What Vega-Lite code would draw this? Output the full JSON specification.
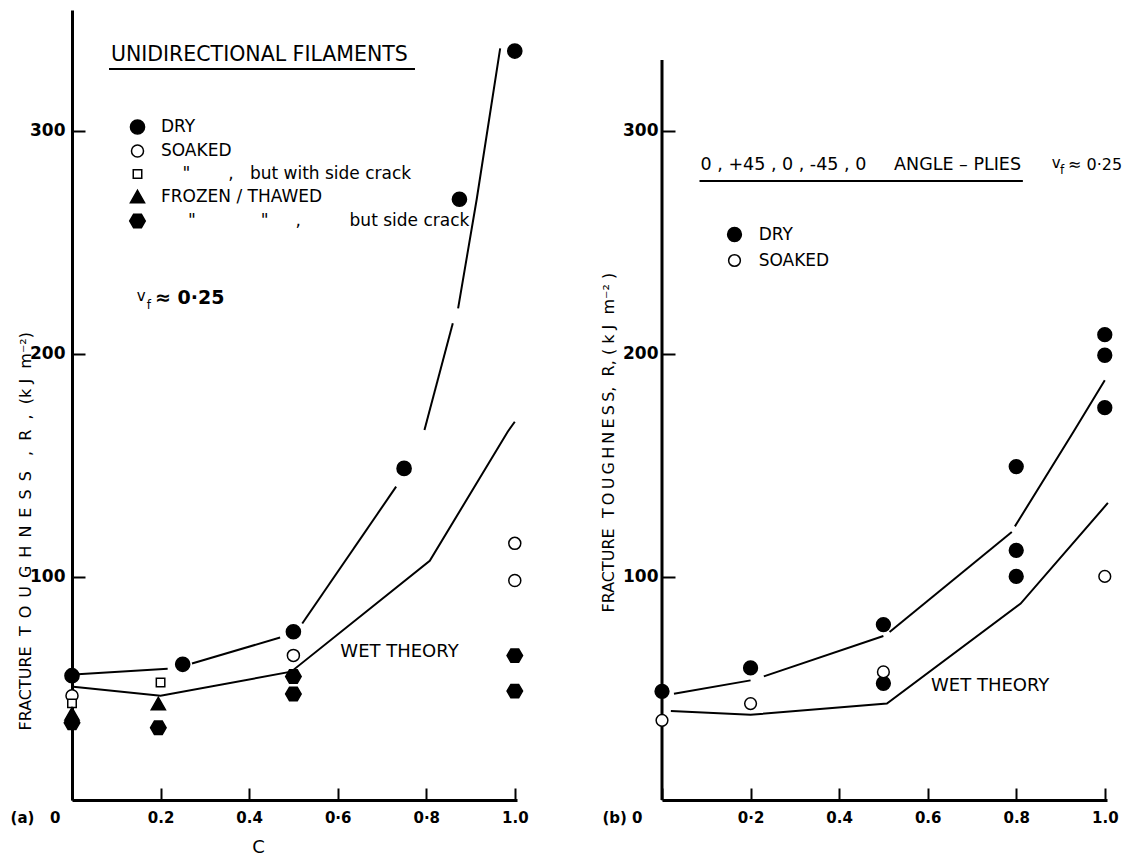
{
  "$schema": "https://vega.github.io/schema/vega-lite/v6.json",
  "background": "white",
  "padding": {"left": 10, "top": 10, "right": 5, "bottom": 5},
  "config": {
    "font": "DejaVu Sans",
    "view": {"stroke": null},
    "axis": {"domainColor": "black", "domainWidth": 3, "tickColor": "black", "tickWidth": 2, "labelColor": "black", "titleColor": "black", "labelFont": "DejaVu Sans", "titleFont": "DejaVu Sans", "labelFontWeight": "bold", "grid": false, "labelFlush": false, "labelOverlap": false, "labelBound": false},
    "legend": {"padding": 0, "titleColor": "black", "labelColor": "black"}
  },
  "datasets": {
    "pts": [
      {"panel": "a", "c": 0, "R": 55.7, "cond": "DRY"},
      {"panel": "a", "c": 0.25, "R": 60.8, "cond": "DRY"},
      {"panel": "a", "c": 0.5, "R": 75.4, "cond": "DRY"},
      {"panel": "a", "c": 0.75, "R": 148.6, "cond": "DRY"},
      {"panel": "a", "c": 0.875, "R": 269.2, "cond": "DRY"},
      {"panel": "a", "c": 1.0, "R": 335.6, "cond": "DRY"},
      {"panel": "a", "c": 0, "R": 46.7, "cond": "SOAKED"},
      {"panel": "a", "c": 0.5, "R": 64.8, "cond": "SOAKED"},
      {"panel": "a", "c": 1.0, "R": 115, "cond": "SOAKED"},
      {"panel": "a", "c": 1.0, "R": 98.4, "cond": "SOAKED"},
      {"panel": "a", "c": 0.2, "R": 52.6, "cond": "SOAKED, side crack"},
      {"panel": "a", "c": 0, "R": 43.3, "cond": "SOAKED, side crack"},
      {"panel": "a", "c": 0.195, "R": 43, "cond": "FROZEN/THAWED"},
      {"panel": "a", "c": 0, "R": 38.4, "cond": "FROZEN/THAWED"},
      {"panel": "a", "c": 0, "R": 34.6, "cond": "FROZEN/THAWED, side crack"},
      {"panel": "a", "c": 0.195, "R": 32.4, "cond": "FROZEN/THAWED, side crack"},
      {"panel": "a", "c": 0.5, "R": 55.3, "cond": "FROZEN/THAWED, side crack"},
      {"panel": "a", "c": 0.5, "R": 47.5, "cond": "FROZEN/THAWED, side crack"},
      {"panel": "a", "c": 1.0, "R": 64.7, "cond": "FROZEN/THAWED, side crack"},
      {"panel": "a", "c": 1.0, "R": 48.8, "cond": "FROZEN/THAWED, side crack"},
      {"panel": "b", "c": 0, "R": 48.7, "cond": "DRY"},
      {"panel": "b", "c": 0.2, "R": 59.2, "cond": "DRY"},
      {"panel": "b", "c": 0.5, "R": 78.6, "cond": "DRY"},
      {"panel": "b", "c": 0.5, "R": 52.3, "cond": "DRY"},
      {"panel": "b", "c": 0.8, "R": 149.4, "cond": "DRY"},
      {"panel": "b", "c": 0.8, "R": 111.9, "cond": "DRY"},
      {"panel": "b", "c": 0.8, "R": 100.2, "cond": "DRY"},
      {"panel": "b", "c": 1.0, "R": 208.5, "cond": "DRY"},
      {"panel": "b", "c": 1.0, "R": 199.3, "cond": "DRY"},
      {"panel": "b", "c": 1.0, "R": 175.8, "cond": "DRY"},
      {"panel": "b", "c": 0, "R": 35.7, "cond": "SOAKED"},
      {"panel": "b", "c": 0.2, "R": 43.2, "cond": "SOAKED"},
      {"panel": "b", "c": 0.5, "R": 57.4, "cond": "SOAKED"},
      {"panel": "b", "c": 1.0, "R": 100.2, "cond": "SOAKED"}
    ],
    "lines": [
      {"panel": "a", "seg": "a1", "c": 0.013, "R": 56.3},
      {"panel": "a", "seg": "a1", "c": 0.216, "R": 58.8},
      {"panel": "a", "seg": "a2", "c": 0.271, "R": 61.2},
      {"panel": "a", "seg": "a2", "c": 0.47, "R": 72.8},
      {"panel": "a", "seg": "a3", "c": 0.52, "R": 79.1},
      {"panel": "a", "seg": "a3", "c": 0.732, "R": 140.4},
      {"panel": "a", "seg": "a4", "c": 0.796, "R": 165.8},
      {"panel": "a", "seg": "a4", "c": 0.86, "R": 213.6},
      {"panel": "a", "seg": "a5", "c": 0.872, "R": 220.3},
      {"panel": "a", "seg": "a5", "c": 0.914, "R": 269.2},
      {"panel": "a", "seg": "a5", "c": 0.967, "R": 336.8},
      {"panel": "a", "seg": "aw", "c": 0.003, "R": 50.8},
      {"panel": "a", "seg": "aw", "c": 0.2, "R": 46.7},
      {"panel": "a", "seg": "aw", "c": 0.495, "R": 57.5},
      {"panel": "a", "seg": "aw", "c": 0.808, "R": 107.2},
      {"panel": "a", "seg": "aw", "c": 0.984, "R": 165},
      {"panel": "a", "seg": "aw", "c": 1.0, "R": 169.5},
      {"panel": "b", "seg": "b1", "c": 0.027, "R": 47.6},
      {"panel": "b", "seg": "b1", "c": 0.2, "R": 53.6},
      {"panel": "b", "seg": "b2", "c": 0.23, "R": 55.4},
      {"panel": "b", "seg": "b2", "c": 0.5, "R": 73.5},
      {"panel": "b", "seg": "b3", "c": 0.514, "R": 75.3},
      {"panel": "b", "seg": "b3", "c": 0.79, "R": 120.1},
      {"panel": "b", "seg": "b4", "c": 0.797, "R": 122.6},
      {"panel": "b", "seg": "b4", "c": 0.929, "R": 164.9},
      {"panel": "b", "seg": "b4", "c": 1.0, "R": 188.1},
      {"panel": "b", "seg": "bw", "c": 0.02, "R": 39.9},
      {"panel": "b", "seg": "bw", "c": 0.2, "R": 38.2},
      {"panel": "b", "seg": "bw", "c": 0.508, "R": 43.2},
      {"panel": "b", "seg": "bw", "c": 0.81, "R": 88},
      {"panel": "b", "seg": "bw", "c": 1.007, "R": 133.1}
    ]
  },
  "hconcat": [
    {
      "width": 445,
      "height": 790,
      "layer": [
        {
          "data": {"name": "lines"},
          "transform": [{"filter": "datum.panel == 'a'"}],
          "mark": {"type": "line", "color": "black", "strokeWidth": 2},
          "encoding": {
            "x": {"field": "c", "type": "quantitative", "scale": {"domain": [0, 1.005], "nice": false, "zero": false},
              "axis": {"values": [0, 0.2, 0.4, 0.6, 0.8, 1], "tickSize": -12, "labelPadding": 22, "labelFontSize": 15,
                "labelAlign": {"condition": {"test": "datum.value == 0", "value": "right"}, "value": "center"},
                "labelOffset": {"condition": {"test": "datum.value == 0", "value": -12}, "value": 0},
                "labelExpr": "datum.value == 0 ? '(a)\u00a0\u00a0\u00a00' : datum.value == 0.2 ? '0.2' : datum.value == 0.4 ? '0.4' : datum.value == 0.6 ? '0·6' : datum.value == 0.8 ? '0·8' : '1.0'",
                "title": "C", "titleX": 186, "titleY": 47, "titleBaseline": "middle", "titleFontSize": 18, "titleFontWeight": "normal"}},
            "y": {"field": "R", "type": "quantitative", "scale": {"domain": [0, 354], "nice": false, "zero": false},
              "axis": {"values": [100, 200, 300], "tickSize": -13, "labelPadding": 20, "labelFontSize": 17,
                "title": "FRACTURE\u00a0\u00a0T\u2002O\u2002U\u2002G\u2002H\u2002N\u2002E\u2002S\u2002S\u00a0\u00a0\u00a0,\u00a0\u00a0R\u00a0\u00a0,\u00a0\u00a0(k\u00a0J\u00a0\u00a0m\u207b\u00b2)",
                "titleX": -47, "titleY": 720, "titleAngle": -90, "titleAlign": "left", "titleBaseline": "middle", "titleFontSize": 16, "titleFontWeight": "normal"}},
            "detail": {"field": "seg"}
          }
        },
        {
          "data": {"name": "pts"},
          "transform": [{"filter": "datum.panel == 'a'"}],
          "mark": {"type": "point", "filled": true, "opacity": 1, "stroke": "black", "strokeWidth": 1.5, "size": 200},
          "encoding": {
            "x": {"field": "c", "type": "quantitative", "scale": {"domain": [0, 1.005], "nice": false, "zero": false}},
            "y": {"field": "R", "type": "quantitative", "scale": {"domain": [0, 354], "nice": false, "zero": false}},
            "shape": {"field": "cond", "type": "nominal",
              "scale": {"domain": ["DRY", "SOAKED", "SOAKED, side crack", "FROZEN/THAWED", "FROZEN/THAWED, side crack"],
                "range": ["circle", "M0.85,0A0.85,0.85,0,1,1,-0.85,0A0.85,0.85,0,1,1,0.85,0Z", "M-0.6,-0.6H0.6V0.6H-0.6Z", "M0,-0.95L1,0.8L-1,0.8Z", "M-1.1,0L-0.55,-0.95L0.55,-0.95L1.1,0L0.55,0.95L-0.55,0.95Z"]},
              "legend": {"orient": "none", "legendX": 57, "legendY": 108.5, "title": null, "labelFontSize": 17, "labelLimit": 600, "labelOffset": 15, "rowPadding": 4, "symbolSize": 200, "symbolStrokeColor": "black", "symbolStrokeWidth": 1.5, "symbolOpacity": 1,
                "encode": {"symbols": {"update": {"stroke": {"value": "black"}, "strokeWidth": {"value": 1.5}}}},
                "labelExpr": "datum.label == 'SOAKED, side crack' ? '\u200b\u00a0\u00a0\u00a0\u00a0\"\u00a0\u00a0\u00a0\u00a0\u00a0\u00a0\u00a0,\u00a0\u00a0\u00a0but with side crack' : datum.label == 'FROZEN/THAWED' ? 'FROZEN / THAWED' : datum.label == 'FROZEN/THAWED, side crack' ? '\u200b\u00a0\u00a0\u00a0\u00a0\u00a0\"\u00a0\u00a0\u00a0\u00a0\u00a0\u00a0\u00a0\u00a0\u00a0\u00a0\u00a0\u00a0\"\u00a0\u00a0\u00a0\u00a0\u00a0,\u00a0\u00a0\u00a0\u00a0\u00a0\u00a0\u00a0\u00a0\u00a0but side crack' : datum.label"}},
            "fill": {"field": "cond", "type": "nominal",
              "scale": {"domain": ["DRY", "SOAKED", "SOAKED, side crack", "FROZEN/THAWED", "FROZEN/THAWED, side crack"],
                "range": ["black", "white", "white", "black", "black"]},
              "legend": {"orient": "none", "legendX": 57, "legendY": 108.5, "title": null, "labelFontSize": 17, "labelLimit": 600, "labelOffset": 15, "rowPadding": 4, "symbolSize": 200, "symbolStrokeColor": "black", "symbolStrokeWidth": 1.5, "symbolOpacity": 1,
                "encode": {"symbols": {"update": {"stroke": {"value": "black"}, "strokeWidth": {"value": 1.5}}}},
                "labelExpr": "datum.label == 'SOAKED, side crack' ? '\u200b\u00a0\u00a0\u00a0\u00a0\"\u00a0\u00a0\u00a0\u00a0\u00a0\u00a0\u00a0,\u00a0\u00a0\u00a0but with side crack' : datum.label == 'FROZEN/THAWED' ? 'FROZEN / THAWED' : datum.label == 'FROZEN/THAWED, side crack' ? '\u200b\u00a0\u00a0\u00a0\u00a0\u00a0\"\u00a0\u00a0\u00a0\u00a0\u00a0\u00a0\u00a0\u00a0\u00a0\u00a0\u00a0\u00a0\"\u00a0\u00a0\u00a0\u00a0\u00a0,\u00a0\u00a0\u00a0\u00a0\u00a0\u00a0\u00a0\u00a0\u00a0but side crack' : datum.label"}}
          }
        },
        {
          "data": {"values": [{}]},
          "mark": {"type": "text", "text": "UNIDIRECTIONAL FILAMENTS", "align": "left", "baseline": "middle", "fontSize": 20.5, "color": "black"},
          "encoding": {"x": {"datum": 0.0878, "type": "quantitative"}, "y": {"datum": 333.8, "type": "quantitative"}}
        },
        {
          "data": {"values": [{}]},
          "mark": {"type": "rule", "color": "black", "strokeWidth": 2},
          "encoding": {"x": {"datum": 0.0836, "type": "quantitative"}, "x2": {"datum": 0.7746}, "y": {"datum": 327.6, "type": "quantitative"}}
        },
        {
          "data": {"values": [{}]},
          "mark": {"type": "text", "text": "v", "align": "left", "baseline": "middle", "fontSize": 15, "color": "black"},
          "encoding": {"x": {"datum": 0.146, "type": "quantitative"}, "y": {"datum": 225.8, "type": "quantitative"}}
        },
        {
          "data": {"values": [{}]},
          "mark": {"type": "text", "text": "f", "align": "left", "baseline": "middle", "fontSize": 12, "color": "black"},
          "encoding": {"x": {"datum": 0.1687, "type": "quantitative"}, "y": {"datum": 221.8, "type": "quantitative"}}
        },
        {
          "data": {"values": [{}]},
          "mark": {"type": "text", "text": "≈ 0·25", "align": "left", "baseline": "middle", "fontSize": 19, "fontWeight": "bold", "color": "black"},
          "encoding": {"x": {"datum": 0.1874, "type": "quantitative"}, "y": {"datum": 224.9, "type": "quantitative"}}
        },
        {
          "data": {"values": [{}]},
          "mark": {"type": "text", "text": "WET THEORY", "align": "left", "baseline": "middle", "fontSize": 18, "color": "black"},
          "encoding": {"x": {"datum": 0.606, "type": "quantitative"}, "y": {"datum": 66.4, "type": "quantitative"}}
        }
      ]
    },
    {
      "width": 445,
      "height": 790,
      "layer": [
        {
          "data": {"values": [{}]},
          "mark": {"type": "rule", "color": "black", "strokeWidth": 3},
          "encoding": {"x": {"datum": 0, "type": "quantitative"}, "y": {"datum": 0, "type": "quantitative"}, "y2": {"datum": 331.6}}
        },
        {
          "data": {"name": "lines"},
          "transform": [{"filter": "datum.panel == 'b'"}],
          "mark": {"type": "line", "color": "black", "strokeWidth": 2},
          "encoding": {
            "x": {"field": "c", "type": "quantitative", "scale": {"domain": [0, 1.005], "nice": false, "zero": false},
              "axis": {"values": [0, 0.2, 0.4, 0.6, 0.8, 1], "tickSize": -12, "labelPadding": 22, "labelFontSize": 15,
                "labelAlign": {"condition": {"test": "datum.value == 0", "value": "right"}, "value": "center"},
                "labelOffset": {"condition": {"test": "datum.value == 0", "value": -20}, "value": 0},
                "labelExpr": "datum.value == 0 ? '(b)\u00a00' : datum.value == 0.2 ? '0·2' : datum.value == 0.4 ? '0.4' : datum.value == 0.6 ? '0.6' : datum.value == 0.8 ? '0.8' : '1.0'",
                "title": null}},
            "y": {"field": "R", "type": "quantitative", "scale": {"domain": [0, 354], "nice": false, "zero": false},
              "axis": {"values": [100, 200, 300], "domain": false, "tickSize": -13, "labelPadding": 17, "labelFontSize": 17,
                "title": "FRACTURE\u00a0\u00a0T\u2009O\u2009U\u2009G\u2009H\u2009N\u2009E\u2009S\u2009S,\u00a0\u00a0R,\u00a0(\u00a0k\u00a0J\u00a0\u00a0m\u207b\u00b2\u00a0)",
                "titleX": -54, "titleY": 602, "titleAngle": -90, "titleAlign": "left", "titleBaseline": "middle", "titleFontSize": 16, "titleFontWeight": "normal"}},
            "detail": {"field": "seg"}
          }
        },
        {
          "data": {"name": "pts"},
          "transform": [{"filter": "datum.panel == 'b'"}],
          "mark": {"type": "point", "filled": true, "opacity": 1, "stroke": "black", "strokeWidth": 1.5, "size": 190},
          "encoding": {
            "x": {"field": "c", "type": "quantitative", "scale": {"domain": [0, 1.005], "nice": false, "zero": false}},
            "y": {"field": "R", "type": "quantitative", "scale": {"domain": [0, 354], "nice": false, "zero": false}},
            "shape": {"field": "cond", "type": "nominal",
              "scale": {"domain": ["DRY", "SOAKED"], "range": ["circle", "M0.85,0A0.85,0.85,0,1,1,-0.85,0A0.85,0.85,0,1,1,0.85,0Z"]},
              "legend": {"orient": "none", "legendX": 64, "legendY": 216, "title": null, "labelFontSize": 17, "labelLimit": 600, "labelOffset": 15.7, "rowPadding": 6, "symbolSize": 190, "symbolStrokeColor": "black", "symbolStrokeWidth": 1.5, "symbolOpacity": 1,
                "encode": {"symbols": {"update": {"stroke": {"value": "black"}, "strokeWidth": {"value": 1.5}}}}}},
            "fill": {"field": "cond", "type": "nominal",
              "scale": {"domain": ["DRY", "SOAKED"], "range": ["black", "white"]},
              "legend": {"orient": "none", "legendX": 64, "legendY": 216, "title": null, "labelFontSize": 17, "labelLimit": 600, "labelOffset": 15.7, "rowPadding": 6, "symbolSize": 190, "symbolStrokeColor": "black", "symbolStrokeWidth": 1.5, "symbolOpacity": 1,
                "encode": {"symbols": {"update": {"stroke": {"value": "black"}, "strokeWidth": {"value": 1.5}}}}}}
          }
        },
        {
          "data": {"values": [{}]},
          "mark": {"type": "text", "text": "0 , +45 , 0 , -45 , 0\u00a0\u00a0\u00a0\u00a0\u00a0ANGLE – PLIES", "align": "left", "baseline": "middle", "fontSize": 17.5, "color": "black"},
          "encoding": {"x": {"datum": 0.0872, "type": "quantitative"}, "y": {"datum": 284.5, "type": "quantitative"}}
        },
        {
          "data": {"values": [{}]},
          "mark": {"type": "rule", "color": "black", "strokeWidth": 2},
          "encoding": {"x": {"datum": 0.0847, "type": "quantitative"}, "x2": {"datum": 0.815}, "y": {"datum": 277.4, "type": "quantitative"}}
        },
        {
          "data": {"values": [{}]},
          "mark": {"type": "text", "text": "v", "align": "left", "baseline": "middle", "fontSize": 15, "color": "black"},
          "encoding": {"x": {"datum": 0.88, "type": "quantitative"}, "y": {"datum": 285.4, "type": "quantitative"}}
        },
        {
          "data": {"values": [{}]},
          "mark": {"type": "text", "text": "f", "align": "left", "baseline": "middle", "fontSize": 12, "color": "black"},
          "encoding": {"x": {"datum": 0.899, "type": "quantitative"}, "y": {"datum": 282.3, "type": "quantitative"}}
        },
        {
          "data": {"values": [{}]},
          "mark": {"type": "text", "text": "≈ 0·25", "align": "left", "baseline": "middle", "fontSize": 16, "color": "black"},
          "encoding": {"x": {"datum": 0.917, "type": "quantitative"}, "y": {"datum": 284.5, "type": "quantitative"}}
        },
        {
          "data": {"values": [{}]},
          "mark": {"type": "text", "text": "WET THEORY", "align": "left", "baseline": "middle", "fontSize": 18, "color": "black"},
          "encoding": {"x": {"datum": 0.6075, "type": "quantitative"}, "y": {"datum": 51.1, "type": "quantitative"}}
        }
      ]
    }
  ],
  "spacing": 145,
  "bounds": "flush",
  "resolve": {"scale": {"x": "independent", "y": "independent", "shape": "independent", "fill": "independent"}}
}
